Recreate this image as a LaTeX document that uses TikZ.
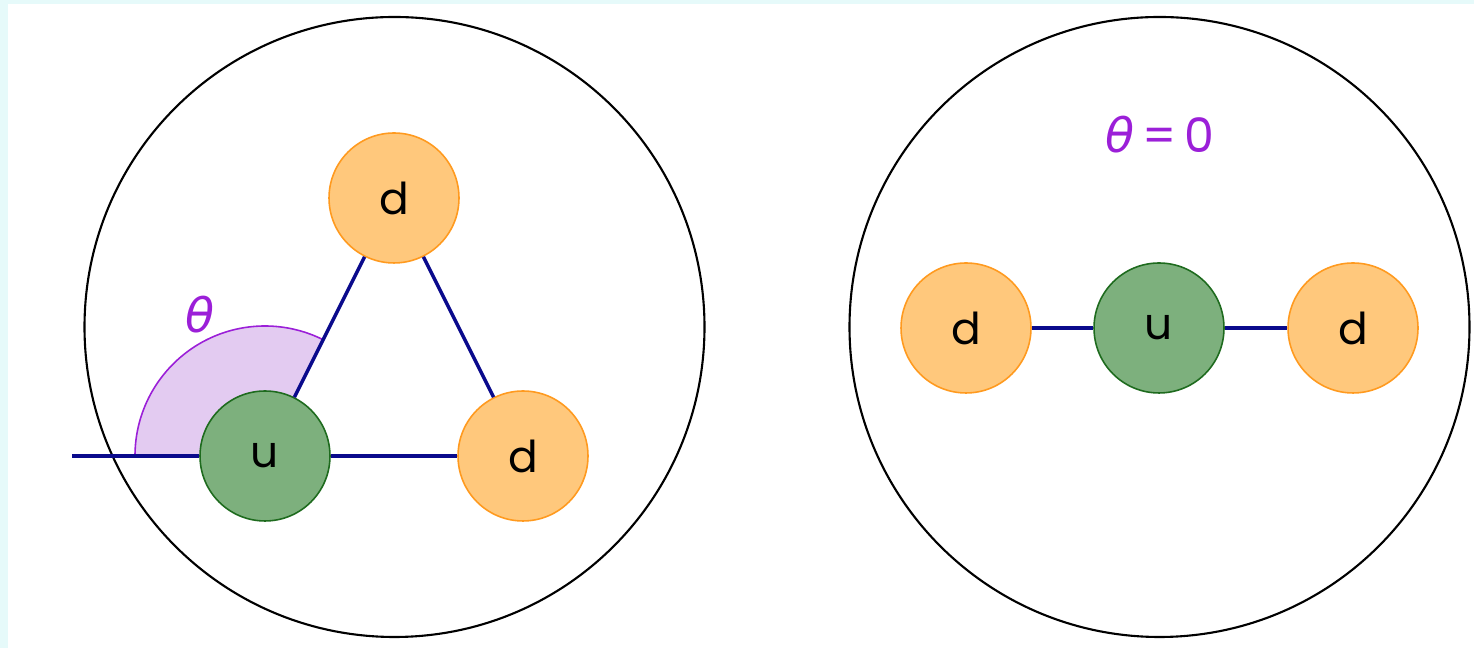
\documentclass[tikz,border=0pt]{standalone}
\usepackage{fontspec}
\setmainfont{Poppins}
\newfontfamily\thetafont{DejaVu Sans}
\usepackage{tikz}
\usetikzlibrary{positioning,calc}
\definecolor{EdgeCyan}{HTML}{E6FAFA}
\definecolor{DownFill}{HTML}{FFC87C}
\definecolor{DownLine}{HTML}{FF9A1F}
\definecolor{UpFill}{HTML}{7DB07D}
\definecolor{UpLine}{HTML}{1E6B1E}
\definecolor{BondBlue}{HTML}{0A0A8C}
\definecolor{AnglePurple}{HTML}{9B1FD8}
\definecolor{AngleFill}{HTML}{E3CBF1}

\begin{document}
\begin{tikzpicture}[x=0.02cm,y=0.02cm,
    quark/.style={circle,minimum size=2.6cm,inner sep=0pt,line width=0.9pt,
      font=\fontsize{25}{30}\selectfont},
    down/.style={quark,fill=DownFill,draw=DownLine},
    up/.style={quark,fill=UpFill,draw=UpLine},
    bond/.style={BondBlue,line width=2pt},
    bag/.style={line width=1.2pt}]
  % frame
  \fill[EdgeCyan] (0,0) rectangle (1474,648);
  \fill[white] (8,0) rectangle (1474,644);
  \useasboundingbox (0,0) rectangle (1474,648);

  % left: bent configuration
  \coordinate (uL) at (265,192);
  \fill[AngleFill] (uL) -- ++(180:130) arc (180:63.43:130) -- cycle;
  \draw[AnglePurple,line width=0.9pt] ($(uL)+(180:130)$) arc (180:63.43:130);
  \node[AnglePurple,font=\fontsize{27}{32}\selectfont] (thetaL) at (200,333) {\thetafont\itshape θ};
  \draw[bag] (394.5,321) circle (310);
  \coordinate (tailL) at (72,192);
  \node[up] (u1) at (uL) {u};
  \node[down] (d1) at (394,450) {d};
  \node[down] (d2) at (523,192) {d};
  \draw[bond] (tailL) -- (u1);
  \draw[bond] (u1) -- (d2);
  \draw[bond] (u1) -- (d1) -- (d2);

  % right: straight configuration
  \draw[bag] (1159.5,321) circle (310);
  \node[AnglePurple,font=\fontsize{27}{32}\selectfont] (thetaR) at (1160,513) {{\thetafont\itshape θ}\,=\,0};
  \node[down] (d3) at (966,320) {d};
  \node[up] (u2) at (1159,320) {u};
  \node[down] (d4) at (1353,320) {d};
  \draw[bond] (d3) -- (u2) -- (d4);
\end{tikzpicture}
\end{document}
